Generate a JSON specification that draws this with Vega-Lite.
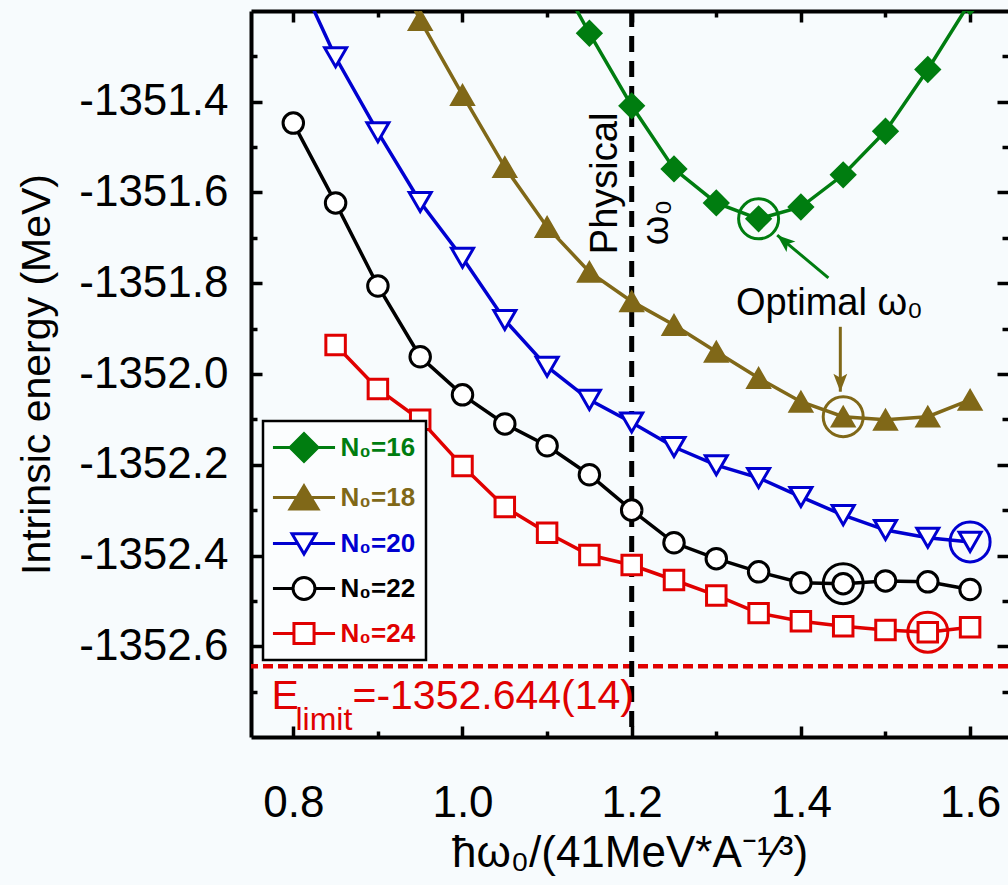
{
  "$schema": "https://vega.github.io/schema/vega-lite/v6.json",
  "width": 757,
  "height": 726,
  "autosize": {"type": "none"},
  "padding": {"left": 251, "top": 11, "right": 0, "bottom": 148},
  "background": "#f7fbfd",
  "config": {
    "view": {"stroke": null},
    "font": "Liberation Sans",
    "axis": {
      "domainColor": "black",
      "domainWidth": 4,
      "tickColor": "black",
      "tickWidth": 3.5,
      "grid": false,
      "labelFont": "Liberation Sans",
      "labelColor": "black",
      "titleColor": "black",
      "titleFont": "Liberation Sans",
      "titleFontWeight": "normal"
    },
    "legend": {"labelFontSize": 26, "labelLimit": 300}
  },
  "datasets": {
    "curves": [
      {"s": "16", "x": 1.1, "y": -1351.08},
      {"s": "16", "x": 1.15, "y": -1351.249},
      {"s": "16", "x": 1.2, "y": -1351.409},
      {"s": "16", "x": 1.25, "y": -1351.548},
      {"s": "16", "x": 1.3, "y": -1351.623},
      {"s": "16", "x": 1.35, "y": -1351.658},
      {"s": "16", "x": 1.4, "y": -1351.632},
      {"s": "16", "x": 1.45, "y": -1351.561},
      {"s": "16", "x": 1.5, "y": -1351.465},
      {"s": "16", "x": 1.55, "y": -1351.329},
      {"s": "16", "x": 1.6, "y": -1351.18},
      {"s": "18", "x": 0.9, "y": -1351.03},
      {"s": "18", "x": 0.95, "y": -1351.22},
      {"s": "18", "x": 1.0, "y": -1351.385},
      {"s": "18", "x": 1.05, "y": -1351.544},
      {"s": "18", "x": 1.1, "y": -1351.676},
      {"s": "18", "x": 1.15, "y": -1351.775},
      {"s": "18", "x": 1.2, "y": -1351.84},
      {"s": "18", "x": 1.25, "y": -1351.892},
      {"s": "18", "x": 1.3, "y": -1351.951},
      {"s": "18", "x": 1.35, "y": -1352.009},
      {"s": "18", "x": 1.4, "y": -1352.061},
      {"s": "18", "x": 1.45, "y": -1352.094},
      {"s": "18", "x": 1.5, "y": -1352.101},
      {"s": "18", "x": 1.55, "y": -1352.094},
      {"s": "18", "x": 1.6, "y": -1352.057},
      {"s": "20", "x": 0.8, "y": -1351.1},
      {"s": "20", "x": 0.85, "y": -1351.302},
      {"s": "20", "x": 0.9, "y": -1351.467},
      {"s": "20", "x": 0.95, "y": -1351.621},
      {"s": "20", "x": 1.0, "y": -1351.744},
      {"s": "20", "x": 1.05, "y": -1351.881},
      {"s": "20", "x": 1.1, "y": -1351.984},
      {"s": "20", "x": 1.15, "y": -1352.057},
      {"s": "20", "x": 1.2, "y": -1352.107},
      {"s": "20", "x": 1.25, "y": -1352.161},
      {"s": "20", "x": 1.3, "y": -1352.201},
      {"s": "20", "x": 1.35, "y": -1352.229},
      {"s": "20", "x": 1.4, "y": -1352.271},
      {"s": "20", "x": 1.45, "y": -1352.311},
      {"s": "20", "x": 1.5, "y": -1352.344},
      {"s": "20", "x": 1.55, "y": -1352.361},
      {"s": "20", "x": 1.6, "y": -1352.37},
      {"s": "22", "x": 0.8, "y": -1351.447},
      {"s": "22", "x": 0.85, "y": -1351.623},
      {"s": "22", "x": 0.9, "y": -1351.806},
      {"s": "22", "x": 0.95, "y": -1351.962},
      {"s": "22", "x": 1.0, "y": -1352.046},
      {"s": "22", "x": 1.05, "y": -1352.11},
      {"s": "22", "x": 1.1, "y": -1352.158},
      {"s": "22", "x": 1.15, "y": -1352.222},
      {"s": "22", "x": 1.2, "y": -1352.3},
      {"s": "22", "x": 1.25, "y": -1352.372},
      {"s": "22", "x": 1.3, "y": -1352.407},
      {"s": "22", "x": 1.35, "y": -1352.436},
      {"s": "22", "x": 1.4, "y": -1352.46},
      {"s": "22", "x": 1.45, "y": -1352.462},
      {"s": "22", "x": 1.5, "y": -1352.456},
      {"s": "22", "x": 1.55, "y": -1352.458},
      {"s": "22", "x": 1.6, "y": -1352.475},
      {"s": "24", "x": 0.85, "y": -1351.936},
      {"s": "24", "x": 0.9, "y": -1352.033},
      {"s": "24", "x": 0.95, "y": -1352.101},
      {"s": "24", "x": 1.0, "y": -1352.203},
      {"s": "24", "x": 1.05, "y": -1352.293},
      {"s": "24", "x": 1.1, "y": -1352.35},
      {"s": "24", "x": 1.15, "y": -1352.399},
      {"s": "24", "x": 1.2, "y": -1352.421},
      {"s": "24", "x": 1.25, "y": -1352.454},
      {"s": "24", "x": 1.3, "y": -1352.488},
      {"s": "24", "x": 1.35, "y": -1352.527},
      {"s": "24", "x": 1.4, "y": -1352.545},
      {"s": "24", "x": 1.45, "y": -1352.556},
      {"s": "24", "x": 1.5, "y": -1352.564},
      {"s": "24", "x": 1.55, "y": -1352.569},
      {"s": "24", "x": 1.6, "y": -1352.558}
    ],
    "optimal": [
      {"s": "16", "x": 1.35, "y": -1351.658},
      {"s": "18", "x": 1.45, "y": -1352.094},
      {"s": "20", "x": 1.6, "y": -1352.37},
      {"s": "22", "x": 1.45, "y": -1352.462},
      {"s": "24", "x": 1.55, "y": -1352.569}
    ],
    "arrows": [
      {"s": "16", "x": 1.4325, "y": -1351.788, "x2": 1.372, "y2": -1351.694},
      {"s": "18", "x": 1.4466, "y": -1351.896, "x2": 1.4466, "y2": -1352.039}
    ],
    "notes": [
      {"note": "Physical", "x": 1.1831, "y": -1351.58},
      {"note": "ω₀", "x": 1.2434, "y": -1351.666},
      {"note": "Optimal ω₀", "x": 1.4337, "y": -1351.87},
      {"note": "E", "x": 0.7741, "y": -1352.738},
      {"note": "limit", "x": 0.8025, "y": -1352.784},
      {"note": "=-1352.644(14)", "x": 0.8699, "y": -1352.738}
    ]
  },
  "resolve": {"axis": {"x": "independent", "y": "independent"}},
  "layer": [
    {
      "data": {"values": [{}]},
      "mark": {"type": "rule", "color": "#e00000", "strokeWidth": 4.5, "strokeDash": [10, 5]},
      "encoding": {
        "y": {"datum": -1352.644, "type": "quantitative", "axis": null, "scale": {"domain": [-1352.8, -1351.2], "nice": false, "zero": false}}
      }
    },
    {
      "data": {"values": [{}]},
      "mark": {"type": "rule", "color": "black", "strokeWidth": 5, "strokeDash": [16, 9]},
      "encoding": {
        "x": {"datum": 1.2, "type": "quantitative", "axis": null, "scale": {"domain": [0.75, 1.6448], "nice": false, "zero": false}}
      }
    },
    {
      "data": {"name": "curves"},
      "mark": {"type": "line", "strokeWidth": 3.5, "clip": true},
      "encoding": {
        "x": {
          "field": "x", "type": "quantitative",
          "scale": {"domain": [0.75, 1.6448], "nice": false, "zero": false},
          "axis": {
            "orient": "bottom",
            "values": [0.8, 0.9, 1.0, 1.1, 1.2, 1.3, 1.4, 1.5, 1.6],
            "tickSize": {"condition": {"test": "abs(round(datum.value*10))%2==0", "value": -11}, "value": -6},
            "labelExpr": "abs(round(datum.value*10))%2==0 ? format(datum.value, '.1f') : ''",
            "labelFontSize": 44,
            "labelPadding": 55,
            "labelFlush": false,
            "title": "ħω₀/(41MeV*A⁻¹⁄³)",
            "titleFontSize": 44,
            "titlePadding": 6
          }
        },
        "y": {
          "field": "y", "type": "quantitative",
          "scale": {"domain": [-1352.8, -1351.2], "nice": false, "zero": false},
          "axis": {
            "orient": "left",
            "values": [-1352.7, -1352.6, -1352.5, -1352.4, -1352.3, -1352.2, -1352.1, -1352.0, -1351.9, -1351.8, -1351.7, -1351.6, -1351.5, -1351.4, -1351.3],
            "tickSize": {"condition": {"test": "abs(round(datum.value*10))%2==0", "value": -11}, "value": -6},
            "labelExpr": "abs(round(datum.value*10))%2==0 ? replace(format(datum.value, '.1f'), '−', '-') : ''",
            "labelFontSize": 44,
            "labelPadding": 34,
            "labelFlush": false,
            "title": "Intrinsic energy (MeV)",
            "titleFontSize": 41,
            "titlePadding": 20
          }
        },
        "stroke": {
          "field": "s", "type": "nominal",
          "scale": {"domain": ["16", "18", "20", "22", "24"], "range": ["#007d10", "#806818", "#0000d0", "#000000", "#e00000"]},
          "legend": {
            "orient": "none",
            "legendX": 12,
            "legendY": 410,
            "title": null,
            "fillColor": "#fbfdfe",
            "strokeColor": "black",
            "padding": 10,
            "rowPadding": 11,
            "symbolSize": 900,
            "symbolStrokeWidth": 3,
            "symbolOffset": 14.5,
            "labelOffset": 20,
            "labelFont": "Liberation Sans",
            "labelFontSize": 26,
            "labelFontWeight": "bold",
            "labelExpr": "'N₀=' + datum.label",
            "encode": {
              "legend": {"update": {"strokeWidth": {"value": 2.5}}},
              "labels": {"update": {"fill": {"signal": "scale('stroke', datum.value)"}, "fontSize": {"value": 26}}},
              "symbols": {
                "update": {
                  "shape": {"signal": "datum.value=='16' ? 'M-2.07,0L2.07,0M-0.93,0L0,-0.93L0.93,0L0,0.93Z' : datum.value=='18' ? 'M-2.07,0L2.07,0M0,-0.77L0.93,0.77L-0.93,0.77Z' : datum.value=='20' ? 'M-2.07,0L-0.42,0M0.42,0L2.07,0M-0.8,-0.65L0.8,-0.65L0,0.7Z' : datum.value=='22' ? 'M-2.07,0L-0.73,0M0.73,0L2.07,0M0.73,0A0.73,0.73,0,1,1,-0.73,0A0.73,0.73,0,1,1,0.73,0Z' : 'M-2.07,0L-0.67,0M0.67,0L2.07,0M-0.67,-0.67L0.67,-0.67L0.67,0.67L-0.67,0.67Z'"},
                  "fill": {"signal": "(datum.value=='16' || datum.value=='18') ? scale('stroke', datum.value) : '#ffffff'"},
                  "stroke": {"signal": "scale('stroke', datum.value)"},
                  "strokeWidth": {"value": 3},
                  "size": {"value": 900},
                  "opacity": {"value": 1}
                }
              }
            }
          }
        }
      }
    },
    {
      "data": {"name": "curves"},
      "transform": [{"filter": "datum.s == '16'"}],
      "mark": {"type": "point", "shape": "diamond", "size": 600, "filled": true, "fill": "#007d10", "stroke": "#007d10", "strokeWidth": 2, "opacity": 1, "clip": true},
      "encoding": {
        "x": {"field": "x", "type": "quantitative", "axis": null},
        "y": {"field": "y", "type": "quantitative", "axis": null}
      }
    },
    {
      "data": {"name": "curves"},
      "transform": [{"filter": "datum.s == '18'"}],
      "mark": {"type": "point", "shape": "triangle-up", "size": 529, "filled": true, "fill": "#806818", "stroke": "#806818", "strokeWidth": 2, "opacity": 1, "clip": true},
      "encoding": {
        "x": {"field": "x", "type": "quantitative", "axis": null},
        "y": {"field": "y", "type": "quantitative", "axis": null}
      }
    },
    {
      "data": {"name": "curves"},
      "transform": [{"filter": "datum.s == '20'"}],
      "mark": {"type": "point", "shape": "triangle-down", "size": 484, "filled": true, "fill": "#ffffff", "stroke": "#0000d0", "strokeWidth": 3, "opacity": 1, "clip": true},
      "encoding": {
        "x": {"field": "x", "type": "quantitative", "axis": null},
        "y": {"field": "y", "type": "quantitative", "axis": null}
      }
    },
    {
      "data": {"name": "curves"},
      "transform": [{"filter": "datum.s == '22'"}],
      "mark": {"type": "point", "shape": "circle", "size": 420, "filled": true, "fill": "#ffffff", "stroke": "#000000", "strokeWidth": 3, "opacity": 1, "clip": true},
      "encoding": {
        "x": {"field": "x", "type": "quantitative", "axis": null},
        "y": {"field": "y", "type": "quantitative", "axis": null}
      }
    },
    {
      "data": {"name": "curves"},
      "transform": [{"filter": "datum.s == '24'"}],
      "mark": {"type": "point", "shape": "square", "size": 380, "filled": true, "fill": "#ffffff", "stroke": "#e00000", "strokeWidth": 3, "opacity": 1, "clip": true},
      "encoding": {
        "x": {"field": "x", "type": "quantitative", "axis": null},
        "y": {"field": "y", "type": "quantitative", "axis": null}
      }
    },
    {
      "data": {"name": "optimal"},
      "mark": {"type": "point", "shape": "circle", "filled": false, "size": 1600, "strokeWidth": 3, "opacity": 1},
      "encoding": {
        "x": {
          "field": "x", "type": "quantitative",
          "axis": {
            "orient": "top",
            "values": [0.8, 0.9, 1.0, 1.1, 1.2, 1.3, 1.4, 1.5, 1.6],
            "tickSize": {"condition": {"test": "abs(round(datum.value*10))%2==0", "value": -11}, "value": -6},
            "labels": false,
            "title": null
          }
        },
        "y": {
          "field": "y", "type": "quantitative",
          "axis": {
            "orient": "right",
            "values": [-1352.7, -1352.6, -1352.5, -1352.4, -1352.3, -1352.2, -1352.1, -1352.0, -1351.9, -1351.8, -1351.7, -1351.6, -1351.5, -1351.4, -1351.3],
            "tickSize": {"condition": {"test": "abs(round(datum.value*10))%2==0", "value": -11}, "value": -6},
            "labels": false,
            "domain": false,
            "title": null
          }
        },
        "stroke": {"field": "s", "type": "nominal"}
      }
    },
    {
      "data": {"name": "arrows"},
      "mark": {"type": "rule", "strokeWidth": 3},
      "encoding": {
        "x": {"field": "x", "type": "quantitative", "axis": null},
        "y": {"field": "y", "type": "quantitative", "axis": null},
        "x2": {"field": "x2"},
        "y2": {"field": "y2"},
        "stroke": {"field": "s", "type": "nominal"}
      }
    },
    {
      "data": {"name": "arrows"},
      "transform": [{"filter": "datum.s == '18'"}],
      "mark": {"type": "point", "shape": "M0,0L-0.5,-1.3L0,-1L0.5,-1.3Z", "filled": true, "size": 765, "angle": 0, "fill": "#806818", "opacity": 1},
      "encoding": {
        "x": {"field": "x2", "type": "quantitative", "axis": null},
        "y": {"field": "y2", "type": "quantitative", "axis": null}
      }
    },
    {
      "data": {"name": "arrows"},
      "transform": [{"filter": "datum.s == '16'"}],
      "mark": {"type": "point", "shape": "M0,0L-0.5,-1.3L0,-1L0.5,-1.3Z", "filled": true, "size": 765, "angle": 130, "fill": "#007d10", "opacity": 1},
      "encoding": {
        "x": {"field": "x2", "type": "quantitative", "axis": null},
        "y": {"field": "y2", "type": "quantitative", "axis": null}
      }
    },
    {
      "data": {"name": "notes"},
      "transform": [{"filter": "datum.note == 'Physical' || datum.note == 'ω₀'"}],
      "mark": {"type": "text", "angle": 270, "fontSize": 38, "align": "center", "baseline": "alphabetic", "color": "black", "font": "Liberation Sans"},
      "encoding": {
        "x": {"field": "x", "type": "quantitative", "axis": null},
        "y": {"field": "y", "type": "quantitative", "axis": null},
        "text": {"field": "note"}
      }
    },
    {
      "data": {"name": "notes"},
      "transform": [{"filter": "datum.note == 'Optimal ω₀'"}],
      "mark": {"type": "text", "fontSize": 38, "align": "center", "baseline": "alphabetic", "color": "black", "font": "Liberation Sans"},
      "encoding": {
        "x": {"field": "x", "type": "quantitative", "axis": null},
        "y": {"field": "y", "type": "quantitative", "axis": null},
        "text": {"field": "note"}
      }
    },
    {
      "data": {"name": "notes"},
      "transform": [{"filter": "datum.note == 'E' || datum.note == '=-1352.644(14)'"}],
      "mark": {"type": "text", "fontSize": 41, "align": "left", "baseline": "alphabetic", "color": "#e00000", "font": "Liberation Sans"},
      "encoding": {
        "x": {"field": "x", "type": "quantitative", "axis": null},
        "y": {"field": "y", "type": "quantitative", "axis": null},
        "text": {"field": "note"}
      }
    },
    {
      "data": {"name": "notes"},
      "transform": [{"filter": "datum.note == 'limit'"}],
      "mark": {"type": "text", "fontSize": 32, "align": "left", "baseline": "alphabetic", "color": "#e00000", "font": "Liberation Sans"},
      "encoding": {
        "x": {"field": "x", "type": "quantitative", "axis": null},
        "y": {"field": "y", "type": "quantitative", "axis": null},
        "text": {"field": "note"}
      }
    }
  ]
}
